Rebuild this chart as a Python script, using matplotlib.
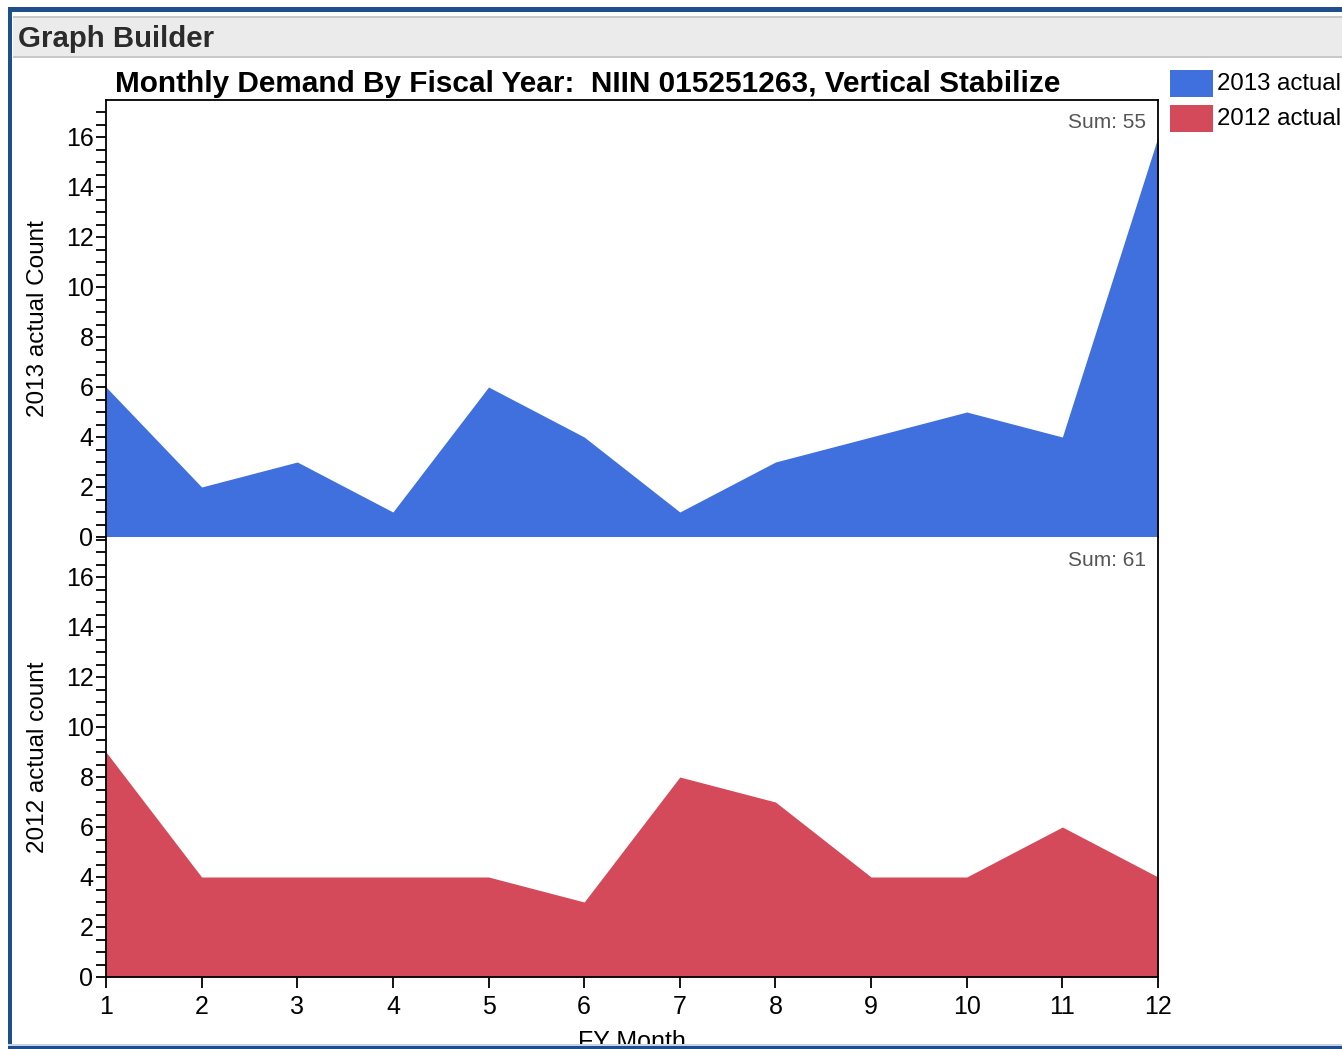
import matplotlib
matplotlib.use("Agg")
import matplotlib.pyplot as plt
from matplotlib.patches import Rectangle
from matplotlib.ticker import MultipleLocator

plt.rcParams['font.family'] = ['Liberation Sans', 'DejaVu Sans']

# data
months = [1, 2, 3, 4, 5, 6, 7, 8, 9, 10, 11, 12]
actual_2013 = [6, 2, 3, 1, 6, 4, 1, 3, 4, 5, 4, 16]
actual_2012 = [9, 4, 4, 4, 4, 3, 8, 7, 4, 4, 6, 4]
series_names = ["2013 actual", "2012 actual"]
ylabels = ["2013 actual Count", "2012 actual count"]

W, H = 1342, 1049
blue = "#4070dd"
red = "#d44a5a"
frame_blue = "#1f4e8c"

fig = plt.figure(figsize=(W / 100, H / 100), dpi=100)


def fx(px):
    return px / W


def fy(py):
    return 1 - py / H


def rect(x0, y0, x1, y1, color, z=0):
    fig.patches.append(Rectangle((fx(x0), fy(y1)), fx(x1) - fx(x0), fy(y0) - fy(y1),
                                 transform=fig.transFigure, color=color, zorder=z,
                                 linewidth=0))


# window chrome
rect(13, 17, W, 58, "#ebebeb")
rect(13, 16, W, 18, "#c8c8c8")
rect(13, 56, W, 58, "#c8c8c8")
fig.text(fx(18), fy(39), "Graph Builder", fontsize=21.2, fontweight="bold",
         color="#2b2b2b", va="center", ha="left")

left, right = 106, 1158
ax1 = fig.add_axes([fx(left), fy(537), fx(right) - fx(left), fy(100) - fy(537)])
ax2 = fig.add_axes([fx(left), fy(977), fx(right) - fx(left), fy(537) - fy(977)])

for ax, vals, col, lab, top in [(ax1, actual_2013, blue, ylabels[0], 17.48),
                                 (ax2, actual_2012, red, ylabels[1], 17.6)]:
    ax.fill_between(months, 0, vals, color=col, linewidth=0)
    ax.set_xlim(1, 12)
    ax.set_ylim(0, top)
    ax.yaxis.set_major_locator(MultipleLocator(2))
    ax.yaxis.set_minor_locator(MultipleLocator(0.5))
    ax.tick_params(axis="y", which="both", direction="out", length=7, width=1.3,
                   labelsize=18, pad=2)
    ax.set_ylabel(lab, fontsize=17.5, labelpad=12)
    ax.annotate("Sum: %d" % sum(vals), xy=(1, 1), xycoords="axes fraction",
                xytext=(-12, -23), textcoords="offset pixels",
                ha="right", va="center", fontsize=15, color="#555555")
    for s in ax.spines.values():
        s.set_linewidth(1.3)
    ax.spines["bottom"].set_visible(False)
    ax.spines["top"].set_visible(False)

ax1.spines["top"].set_visible(True)
ax2.spines["bottom"].set_visible(True)
ax1.set_xticks([])
ax2.set_xticks(months)
ax2.tick_params(axis="x", direction="out", length=8, width=1.3, labelsize=18, pad=5)
ax2.set_xlabel("FY Month", fontsize=18, labelpad=8)

fig.text(fx(115), fy(84), "Monthly Demand By Fiscal Year:  NIIN 015251263, Vertical Stabilize",
         fontsize=21.4, fontweight="bold", va="center", ha="left")

# legend
for i, (nm, col) in enumerate(zip(series_names, [blue, red])):
    y0 = 70 + i * 35
    rect(1170, y0, 1213, y0 + 27, col, z=2)
    fig.text(fx(1217), fy(y0 + 14), nm, fontsize=17.3, va="center", ha="left")

# outer frame (drawn on top so it clips the x label like the original window)
rect(0, 1046, W, H, "white", z=5)
rect(8, 7, 12, H, frame_blue, z=6)
rect(8, 7, W, 12, frame_blue, z=6)
rect(8, 1046, W, H, frame_blue, z=6)
rect(8, 1044, W, 1046, "#c8d2e0", z=6)

fig.savefig("out.png", dpi=100)
